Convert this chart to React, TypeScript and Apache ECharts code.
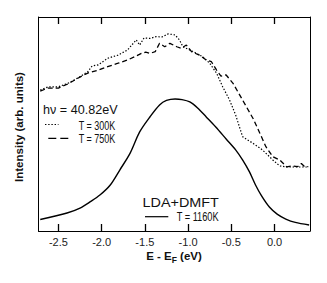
import React, { useEffect, useRef } from "react";
import * as echarts from "echarts";

// LDA+DMFT, T = 1160K (solid)
const eSolid = [-2.71, -2.40, -2.25, -2.13, -2.02, -1.90, -1.79, -1.67, -1.56, -1.44, -1.33, -1.25, -1.15, -1.07, -0.98, -0.89, -0.79, -0.68, -0.56, -0.45, -0.37, -0.29, -0.22, -0.15, -0.06, 0.03, 0.13, 0.24, 0.40];
const iSolid = [5.4, 8.4, 10.7, 13.7, 16.8, 21.5, 28.5, 36.4, 46.3, 53.4, 58.9, 61.0, 61.7, 61.4, 60.3, 57.5, 53.3, 48.6, 43.0, 37.9, 33.2, 27.6, 21.5, 16.4, 11.2, 7.9, 5.6, 4.0, 2.8];

// Experiment, T = 300K (dotted)
const e300 = [-2.71, -2.62, -2.50, -2.39, -2.27, -2.16, -2.11, -2.04, -1.93, -1.81, -1.70, -1.60, -1.56, -1.51, -1.44, -1.37, -1.30, -1.23, -1.15, -1.10, -1.06, -0.94, -0.83, -0.75, -0.67, -0.60, -0.52, -0.45, -0.37, -0.25, -0.14, -0.02, 0.06, 0.14, 0.29, 0.38];
const i300 = [65.9, 67.3, 67.4, 69.0, 71.6, 74.4, 77.1, 77.6, 80.7, 82.2, 84.6, 89.3, 86.9, 90.2, 90.0, 90.8, 90.7, 92.1, 91.6, 89.3, 86.1, 83.8, 81.4, 78.4, 73.7, 67.4, 61.2, 54.2, 44.1, 41.0, 37.9, 33.2, 30.4, 29.9, 29.9, 29.9];

// Experiment, T = 750K (dashed)
const e750 = [-2.71, -2.62, -2.50, -2.39, -2.27, -2.16, -2.04, -1.93, -1.81, -1.70, -1.62, -1.54, -1.49, -1.44, -1.38, -1.33, -1.27, -1.21, -1.13, -1.08, -1.02, -0.96, -0.87, -0.79, -0.73, -0.67, -0.62, -0.56, -0.48, -0.37, -0.25, -0.17, -0.10, -0.02, 0.06, 0.14, 0.21, 0.27, 0.31, 0.35, 0.39];
const i750 = [65.4, 66.8, 66.8, 68.7, 71.5, 73.8, 75.2, 76.8, 78.4, 79.9, 81.4, 83.0, 83.6, 83.0, 83.8, 87.7, 86.1, 87.7, 86.1, 85.4, 86.9, 83.8, 82.2, 79.9, 79.1, 75.2, 72.4, 72.9, 69.0, 61.2, 52.7, 45.7, 39.4, 34.7, 33.2, 30.0, 30.4, 30.1, 31.5, 30.0, 30.1];

const tickValues = [-2.5, -2.0, -1.5, -1.0, -0.5, 0.0];
const Y_MIN = 0;
const Y_MAX = 100;

const FONT = "Liberation Sans, Arial, Helvetica, sans-serif";

const zip = (xs: number[], ys: number[]) => xs.map((x, i) => [x, ys[i]]);

export default function App() {
  const ref = useRef<HTMLDivElement>(null);
  useEffect(() => {
    if (!ref.current) return;
    const chart = echarts.init(ref.current, null, { renderer: "svg" });
    const axisLine = { show: true, onZero: false, lineStyle: { color: "#000", width: 1 } };
    const axisTick = {
      show: true,
      inside: true,
      length: 7,
      customValues: tickValues,
      lineStyle: { color: "#000", width: 1.3 },
    };
    chart.setOption({
      animation: false,
      backgroundColor: "#fff",
      grid: { left: 38.5, right: 17, top: 17, bottom: 52 },
      xAxis: [
        {
          type: "value",
          min: -2.73,
          max: 0.41,
          position: "bottom",
          axisLine,
          splitLine: { show: false },
          axisTick,
          axisLabel: {
            show: true,
            customValues: tickValues,
            formatter: (v: number) => v.toFixed(1),
            fontFamily: FONT,
            fontSize: 11,
            color: "#222",
            margin: 5,
          },
        },
        {
          type: "value",
          min: -2.73,
          max: 0.41,
          position: "top",
          axisLine,
          splitLine: { show: false },
          axisTick,
          axisLabel: { show: false },
        },
      ],
      yAxis: [
        {
          type: "value",
          min: Y_MIN,
          max: Y_MAX,
          position: "left",
          axisLine,
          axisTick: { show: false },
          axisLabel: { show: false },
          splitLine: { show: false },
        },
        {
          type: "value",
          min: Y_MIN,
          max: Y_MAX,
          position: "right",
          axisLine,
          axisTick: { show: false },
          axisLabel: { show: false },
          splitLine: { show: false },
        },
      ],
      series: [
        {
          name: "T = 300K",
          type: "line",
          data: zip(e300, i300),
          showSymbol: false,
          smooth: false,
          lineStyle: { color: "#000", width: 1.2, type: [1.4, 1.8] },
        },
        {
          name: "T = 750K",
          type: "line",
          data: zip(e750, i750),
          showSymbol: false,
          smooth: false,
          lineStyle: { color: "#000", width: 1.3, type: [5, 3] },
        },
        {
          name: "LDA+DMFT T = 1160K",
          type: "line",
          data: zip(eSolid, iSolid),
          showSymbol: false,
          smooth: 0.3,
          lineStyle: { color: "#000", width: 1.4, type: "solid" },
        },
      ],
      graphic: [
        {
          type: "text",
          x: 19,
          y: 127,
          rotation: Math.PI / 2,
          style: {
            text: "Intensity (arb. units)",
            fontFamily: FONT,
            fontSize: 11.5,
            fontWeight: "bold",
            fill: "#111",
            align: "center",
            verticalAlign: "middle",
          },
        },
        {
          type: "text",
          x: 174,
          y: 256,
          style: {
            text: "{b|E - E}{s|F}{b| (eV)}",
            fontFamily: FONT,
            fill: "#111",
            align: "center",
            verticalAlign: "middle",
            rich: {
              b: { fontFamily: FONT, fontSize: 11.5, fontWeight: "bold", fill: "#111", lineHeight: 12 },
              s: { fontFamily: FONT, fontSize: 8.5, fontWeight: "bold", fill: "#111", lineHeight: 9, padding: [7, 0, 0, 0] },
            },
          },
        },
        {
          type: "text",
          x: 43,
          y: 110,
          scaleX: 1.05,
          style: { text: "h\u03bd = 40.82eV", fontFamily: FONT, fontSize: 12, fill: "#111", align: "left", verticalAlign: "middle" },
        },
        {
          type: "line",
          shape: { x1: 45, y1: 124.5, x2: 58.5, y2: 124.5 },
          style: { stroke: "#000", lineWidth: 1.2, lineDash: [1.4, 1.8] },
        },
        {
          type: "text",
          x: 78.7,
          y: 125,
          scaleX: 0.75,
          style: { text: "T = 300K", fontFamily: FONT, fontSize: 12, fill: "#111", align: "left", verticalAlign: "middle" },
        },
        {
          type: "line",
          shape: { x1: 48.3, y1: 138.3, x2: 68.3, y2: 138.3 },
          style: { stroke: "#000", lineWidth: 1.3, lineDash: [8, 4] },
        },
        {
          type: "text",
          x: 78.7,
          y: 138.5,
          scaleX: 0.75,
          style: { text: "T = 750K", fontFamily: FONT, fontSize: 12, fill: "#111", align: "left", verticalAlign: "middle" },
        },
        {
          type: "text",
          x: 142.5,
          y: 203,
          scaleX: 1.2,
          style: { text: "LDA+DMFT", fontFamily: FONT, fontSize: 12, fill: "#111", align: "left", verticalAlign: "middle" },
        },
        {
          type: "line",
          shape: { x1: 145, y1: 216.7, x2: 168.3, y2: 216.7 },
          style: { stroke: "#000", lineWidth: 1.2 },
        },
        {
          type: "text",
          x: 176.7,
          y: 217,
          scaleX: 0.77,
          style: { text: "T = 1160K", fontFamily: FONT, fontSize: 12, fill: "#111", align: "left", verticalAlign: "middle" },
        },
      ],
    });
    return () => chart.dispose();
  }, []);
  return (
    <div
      ref={ref}
      style={{ position: "fixed", left: 0, top: 0, width: 327, height: 283, background: "#fff" }}
    />
  );
}
